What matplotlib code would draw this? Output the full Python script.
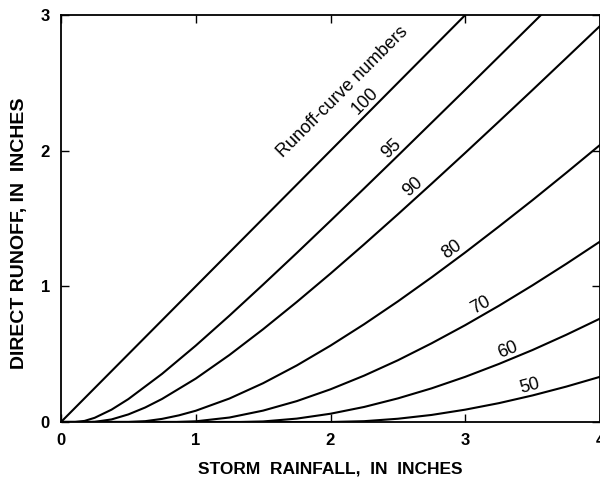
import matplotlib
matplotlib.use("Agg")
import matplotlib.pyplot as plt
import math

plt.rcParams['font.family'] = ['Liberation Sans', 'DejaVu Sans']

# Storm rainfall (in) and direct runoff (in), per curve number
p_100 = [0.0, 1.0, 2.0, 3.0]
q_100 = [0.0, 1.0, 2.0, 3.0]

p_95 = [0.0, 0.105, 0.175, 0.25, 0.375, 0.5, 0.75, 1.0, 1.25, 1.5, 1.75, 2.0, 2.25, 2.5, 2.75, 3.0, 3.25, 3.5, 3.75]
q_95 = [0.0, 0.0, 0.008, 0.031, 0.091, 0.169, 0.355, 0.563, 0.784, 1.013, 1.246, 1.483, 1.722, 1.963, 2.206, 2.449, 2.694, 2.939, 3.185]

p_90 = [0.0, 0.222, 0.25, 0.375, 0.5, 0.625, 0.75, 1.0, 1.25, 1.5, 1.75, 2.0, 2.25, 2.5, 2.75, 3.0, 3.25, 3.5, 3.75, 4.0, 4.25]
q_90 = [0.0, 0.0, 0.001, 0.019, 0.056, 0.107, 0.170, 0.320, 0.494, 0.684, 0.885, 1.094, 1.310, 1.531, 1.756, 1.984, 2.215, 2.448, 2.683, 2.919, 3.157]

p_80 = [0.0, 0.5, 0.625, 0.75, 0.875, 1.0, 1.25, 1.5, 1.75, 2.0, 2.25, 2.5, 2.75, 3.0, 3.25, 3.5, 3.75, 4.0, 4.25]
q_80 = [0.0, 0.0, 0.006, 0.023, 0.049, 0.083, 0.173, 0.286, 0.417, 0.563, 0.721, 0.889, 1.066, 1.250, 1.441, 1.636, 1.837, 2.042, 2.250]

p_70 = [0.0, 0.857, 1.0, 1.25, 1.5, 1.75, 2.0, 2.25, 2.5, 2.75, 3.0, 3.25, 3.5, 3.75, 4.0, 4.25]
q_70 = [0.0, 0.0, 0.005, 0.033, 0.084, 0.154, 0.241, 0.342, 0.455, 0.580, 0.714, 0.857, 1.008, 1.166, 1.330, 1.499]

p_60 = [0.0, 1.333, 1.5, 1.75, 2.0, 2.25, 2.5, 2.75, 3.0, 3.25, 3.5, 3.75, 4.0, 4.25]
q_60 = [0.0, 0.0, 0.004, 0.025, 0.061, 0.111, 0.174, 0.248, 0.333, 0.428, 0.531, 0.643, 0.762, 0.887]

p_50 = [0.0, 2.0, 2.25, 2.5, 2.75, 3.0, 3.25, 3.5, 3.75, 4.0, 4.25]
q_50 = [0.0, 0.0, 0.006, 0.024, 0.052, 0.091, 0.139, 0.196, 0.261, 0.333, 0.411]

curves = [(p_100, q_100), (p_95, q_95), (p_90, q_90), (p_80, q_80),
          (p_70, q_70), (p_60, q_60), (p_50, q_50)]

curve_labels = ["100", "95", "90", "80", "70", "60", "50"]
# label anchor points (on each curve) and text angles
label_x = [2.31, 2.50, 2.66, 2.94, 3.15, 3.34, 3.50]
label_y = [2.31, 1.963, 1.678, 1.208, 0.800, 0.465, 0.196]
label_rot = [45, 43, 41, 35, 29, 22, 15]

x_ticks = [0, 1, 2, 3, 4]
y_ticks = [0, 1, 2, 3]

fig = plt.figure(figsize=(6.0, 4.79), dpi=100)
ax = fig.add_axes([61/600, 1 - 422/479, 1 - 61/600, (422 - 15)/479])

for p, q in curves:
    ax.plot(p, q, color='black', lw=1.5, solid_capstyle='butt')

for t, x, y, r in zip(curve_labels, label_x, label_y, label_rot):
    a = math.radians(r)
    off = 1.0
    ax.annotate(t, xy=(x, y), xytext=(-off * math.sin(a), off * math.cos(a)),
                textcoords='offset points', rotation=r, rotation_mode='anchor',
                ha='center', va='bottom', fontsize=13)

ax.text(2.09, 2.43, "Runoff-curve numbers", rotation=45, ha='center', va='center',
        fontsize=13, rotation_mode='anchor')

ax.set_xlim(0, 4.0)
ax.set_ylim(0, 3.0)
ax.set_xticks(x_ticks)
ax.set_yticks(y_ticks)
ax.set_xticklabels([str(v) for v in x_ticks], fontweight='bold', fontsize=12)
ax.set_yticklabels([str(v) for v in y_ticks], fontweight='bold', fontsize=12)
ax.tick_params(direction='in', length=6, width=1.0, top=True, right=True)
ax.tick_params(axis='x', pad=8)
ax.tick_params(axis='y', pad=8)
for s in ax.spines.values():
    s.set_linewidth(1.3)

ax.set_xlabel("STORM  RAINFALL,  IN  INCHES", fontweight='bold', fontsize=12.5, labelpad=10)
ax.set_ylabel("DIRECT RUNOFF, IN  INCHES", fontweight='bold', fontsize=14)
ax.yaxis.set_label_coords(-0.062, (422 - 233) / 407)

fig.savefig("out.png", dpi=100)
